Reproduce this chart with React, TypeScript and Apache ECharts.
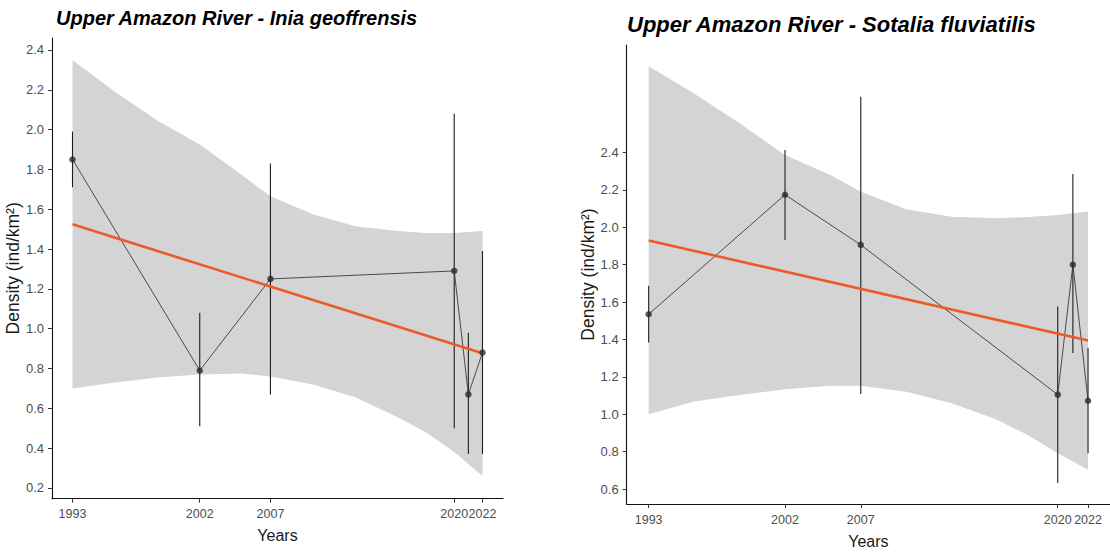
import React, { useEffect, useRef } from "react";
import * as echarts from "echarts";

// Survey years and axis tick years
const surveyYears = [1993, 2002, 2007, 2020, 2021, 2022];
const yearTicks = [1993, 2002, 2007, 2020, 2022];
const fitYears = [1993, 2022];

// Inia geoffrensis
const iniaDensity = [1.85, 0.79, 1.25, 1.29, 0.67, 0.88];
const iniaLow = [1.71, 0.51, 0.67, 0.5, 0.37, 0.37];
const iniaHigh = [1.99, 1.08, 1.83, 2.08, 0.98, 1.39];
const iniaFit = [1.524, 0.877];
const iniaTicks = [0.2, 0.4, 0.6, 0.8, 1.0, 1.2, 1.4, 1.6, 1.8, 2.0, 2.2, 2.4];

// Sotalia fluviatilis
const sotaliaDensity = [1.535, 2.174, 1.906, 1.105, 1.8, 1.072];
const sotaliaLow = [1.384, 1.932, 1.109, 0.632, 1.327, 0.792];
const sotaliaHigh = [1.687, 2.413, 2.698, 1.576, 2.285, 1.354];
const sotaliaFit = [1.929, 1.394];
const sotaliaTicks = [0.6, 0.8, 1.0, 1.2, 1.4, 1.6, 1.8, 2.0, 2.2, 2.4];

// Confidence ribbons (read at these years)
const ribbonYears = [1993, 1996, 1999, 2002, 2005, 2007, 2010, 2013, 2016, 2018, 2020, 2022];
const iniaUpper = [2.35, 2.19, 2.045, 1.925, 1.77, 1.665, 1.575, 1.515, 1.49, 1.48, 1.48, 1.49];
const iniaLower = [0.7, 0.73, 0.755, 0.77, 0.775, 0.76, 0.72, 0.655, 0.555, 0.48, 0.38, 0.26];
const sotaliaUpper = [2.862, 2.716, 2.556, 2.387, 2.28, 2.19, 2.096, 2.057, 2.048, 2.055, 2.066, 2.084];
const sotaliaLower = [1.0, 1.068, 1.103, 1.134, 1.153, 1.152, 1.121, 1.059, 0.97, 0.89, 0.792, 0.703];

const FONT = "Liberation Sans, Arial, sans-serif";

function ribbonSeries(idx: number, lower: number[], upper: number[]) {
  return {
    type: "custom",
    xAxisIndex: idx,
    yAxisIndex: idx,
    silent: true,
    z: 1,
    clip: true,
    data: ribbonYears.map((y, i) => [y, lower[i], upper[i]]),
    encode: { x: 0, y: [1, 2] },
    renderItem: (params: any, api: any) => {
      if (params.dataIndex !== 0) return { type: "group", children: [] };
      const top = ribbonYears.map((y, i) => api.coord([y, upper[i]]));
      const bottom = ribbonYears.map((y, i) => api.coord([y, lower[i]])).reverse();
      return {
        type: "polygon",
        shape: { points: top.concat(bottom) },
        style: { fill: "#d4d4d4", stroke: "none" },
      };
    },
  };
}

function errorSeries(idx: number, low: number[], high: number[]) {
  return {
    type: "custom",
    xAxisIndex: idx,
    yAxisIndex: idx,
    silent: true,
    z: 2,
    data: surveyYears.map((y, i) => [y, low[i], high[i]]),
    encode: { x: 0, y: [1, 2] },
    renderItem: (params: any, api: any) => {
      const x = api.value(0);
      const p1 = api.coord([x, api.value(1)]);
      const p2 = api.coord([x, api.value(2)]);
      return {
        type: "line",
        shape: { x1: p1[0], y1: p1[1], x2: p2[0], y2: p2[1] },
        style: { stroke: "#1e1e1e", lineWidth: 1.1 },
      };
    },
  };
}

function panelSeries(idx: number, dens: number[], low: number[], high: number[], fit: number[], lower: number[], upper: number[]) {
  return [
    ribbonSeries(idx, lower, upper),
    errorSeries(idx, low, high),
    {
      type: "line",
      xAxisIndex: idx,
      yAxisIndex: idx,
      z: 3,
      silent: true,
      symbol: "none",
      data: surveyYears.map((y, i) => [y, dens[i]]),
      lineStyle: { color: "#3a3a3a", width: 0.9 },
    },
    {
      type: "line",
      xAxisIndex: idx,
      yAxisIndex: idx,
      z: 4,
      silent: true,
      symbol: "none",
      data: fitYears.map((y, i) => [y, fit[i]]),
      lineStyle: { color: "#ec5a28", width: 2.6 },
    },
    {
      type: "scatter",
      xAxisIndex: idx,
      yAxisIndex: idx,
      z: 5,
      silent: true,
      symbolSize: 6.5,
      data: surveyYears.map((y, i) => [y, dens[i]]),
      itemStyle: { color: "#2a2a2a" },
    },
  ];
}

function xAxis(idx: number, gap: number) {
  return {
    type: "value",
    gridIndex: idx,
    min: 1991.55,
    max: 2023.45,
    name: "Years",
    nameLocation: "middle",
    nameGap: gap,
    nameTextStyle: { fontFamily: FONT, fontSize: 16, color: "#1a1a1a" },
    splitLine: { show: false },
    axisLine: { show: true, onZero: false, lineStyle: { color: "#111", width: 1.1 } },
    axisTick: { show: true, length: 4, customValues: yearTicks, lineStyle: { color: "#333" } },
    axisLabel: {
      customValues: yearTicks,
      margin: 9,
      fontFamily: FONT,
      fontSize: 12.5,
      color: "#4d4d4d",
      hideOverlap: false,
      formatter: (v: number) => String(Math.round(v)),
    },
  };
}

function yAxis(idx: number, min: number, max: number, ticks: number[], gap: number) {
  return {
    type: "value",
    gridIndex: idx,
    min,
    max,
    name: "Density (ind/km²)",
    nameLocation: "middle",
    nameRotate: 90,
    nameGap: gap,
    nameTextStyle: { fontFamily: FONT, fontSize: 17.5, color: "#1a1a1a" },
    splitLine: { show: false },
    axisLine: { show: true, onZero: false, lineStyle: { color: "#111", width: 1.1 } },
    axisTick: { show: true, length: 4, customValues: ticks, lineStyle: { color: "#333" } },
    axisLabel: {
      customValues: ticks,
      margin: 8,
      fontFamily: FONT,
      fontSize: 13,
      color: "#4d4d4d",
      formatter: (v: number) => v.toFixed(1),
    },
  };
}

const option = {
  animation: false,
  backgroundColor: "#ffffff",
  title: [
    {
      text: "Upper Amazon River - Inia geoffrensis",
      left: 56,
      top: 8,
      padding: 0,
      textStyle: { fontFamily: FONT, fontSize: 20, fontWeight: "bold", fontStyle: "italic", color: "#000" },
    },
    {
      text: "Upper Amazon River - Sotalia fluviatilis",
      left: 627,
      top: 13,
      padding: 0,
      textStyle: { fontFamily: FONT, fontSize: 22, fontWeight: "bold", fontStyle: "italic", color: "#000" },
    },
  ],
  grid: [
    { left: 52, top: 38, width: 451, height: 460.7, containLabel: false },
    { left: 626.7, top: 45, width: 483.6, height: 459.3, containLabel: false },
  ],
  xAxis: [xAxis(0, 29), xAxis(1, 29)],
  yAxis: [
    yAxis(0, 0.146, 2.46, iniaTicks, 27),
    yAxis(1, 0.52, 2.975, sotaliaTicks, 29),
  ],
  series: [
    ...panelSeries(0, iniaDensity, iniaLow, iniaHigh, iniaFit, iniaLower, iniaUpper),
    ...panelSeries(1, sotaliaDensity, sotaliaLow, sotaliaHigh, sotaliaFit, sotaliaLower, sotaliaUpper),
  ],
};

export default function App() {
  const ref = useRef<HTMLDivElement>(null);
  useEffect(() => {
    const chart = echarts.init(ref.current as HTMLDivElement, null, { renderer: "svg" });
    chart.setOption(option as any);
    return () => chart.dispose();
  }, []);
  return (
    <div
      ref={ref}
      style={{ position: "fixed", left: 0, top: 0, width: 1110, height: 554, background: "#fff" }}
    />
  );
}
